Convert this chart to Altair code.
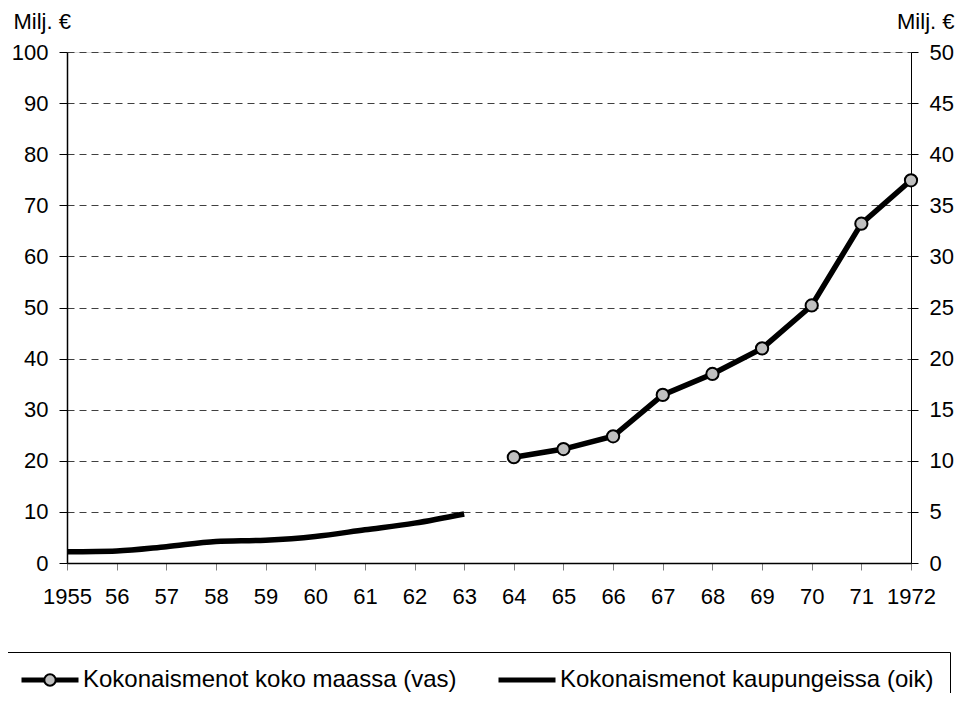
import altair as alt
import pandas as pd

years = ["1955", "56", "57", "58", "59", "60", "61", "62", "63",
         "64", "65", "66", "67", "68", "69", "70", "71", "1972"]

city_years = years[:9]
city_vals = [1.1, 1.18, 1.6, 2.1, 2.23, 2.6, 3.25, 3.9, 4.8]

nat_years = years[9:]
nat_vals = [20.7, 22.3, 24.8, 32.9, 37.0, 42.0, 50.4, 66.4, 74.9]

name_nat = "Kokonaismenot koko maassa (vas)"
name_city = "Kokonaismenot kaupungeissa (oik)"

left_ticks = list(range(0, 101, 10))
right_ticks = list(range(0, 51, 5))

df_nat = pd.DataFrame({"year": nat_years, "value": nat_vals, "series": name_nat})
df_city = pd.DataFrame({"year": city_years, "value": city_vals, "series": name_city})

FONT = "Liberation Sans"
LINE_SYMBOL = "M-1,0H5"

x_enc = alt.X(
    "year:O", sort=years,
    scale=alt.Scale(domain=years, type="point", padding=0),
    axis=alt.Axis(title=None, labelAngle=0, labelFontSize=22, labelFont=FONT,
                  labelColor="black", tickSize=7, tickColor="#808080",
                  domainColor="black", domainWidth=1.5, labelPadding=16,
                  grid=False),
)

stroke_enc = alt.Stroke(
    "series:N",
    scale=alt.Scale(domain=[name_nat, name_city], range=["black", "black"]),
    legend=alt.Legend(orient="none", legendX=-64, legendY=600,
                      direction="horizontal", title=None,
                      symbolType=LINE_SYMBOL, symbolSize=361,
                      symbolStrokeWidth=5,
                      labelFont=FONT, labelFontSize=24, labelColor="black",
                      labelLimit=700, labelOffset=40, columnPadding=31,
                      padding=16, strokeColor="black", zindex=1),
)

fill_enc = alt.Fill(
    "series:N",
    scale=alt.Scale(domain=[name_nat], range=["#c0c0c0"]),
    legend=alt.Legend(orient="none", legendX=-24, legendY=621,
                      title=None, symbolType="circle", symbolSize=130,
                      symbolStrokeColor="black", symbolStrokeWidth=2,
                      labelExpr="''", padding=0, zindex=2),
)

y_left = alt.Y(
    "value:Q",
    scale=alt.Scale(domain=[0, 100], nice=False, zero=True),
    axis=alt.Axis(values=left_ticks, orient="left", title="Milj. €",
                  titleAngle=0, titleX=-54, titleY=-31, titleAlign="left",
                  titleBaseline="middle", titleFontSize=22, titleFont=FONT,
                  titleFontWeight="normal", titleColor="black",
                  labelFontSize=22, labelFont=FONT, labelColor="black",
                  grid=True, gridDash=[7, 5], gridColor="#404040", gridWidth=1,
                  tickSize=8, tickColor="black", domainColor="black",
                  domainWidth=1.5, labelPadding=11),
)

y_right = alt.Y(
    "value:Q",
    scale=alt.Scale(domain=[0, 50], nice=False, zero=True),
    axis=alt.Axis(values=right_ticks, orient="right", title="Milj. €",
                  titleAngle=0, titleX=43, titleY=-31, titleAlign="right",
                  titleBaseline="middle", titleFontSize=22, titleFont=FONT,
                  titleFontWeight="normal", titleColor="black",
                  labelFontSize=22, labelFont=FONT, labelColor="black",
                  grid=False, tickSize=7, tickColor="black",
                  domainColor="black", domainWidth=1, labelPadding=11),
)

line_nat = alt.Chart(df_nat).mark_line(strokeWidth=5.5).encode(
    x=x_enc, y=y_left, stroke=stroke_enc)
pts_nat = alt.Chart(df_nat).mark_circle(
    size=150, opacity=1, stroke="black", strokeWidth=2).encode(
    x=x_enc, y=y_left, fill=fill_enc)
line_city = alt.Chart(df_city).mark_line(
    strokeWidth=5.5, interpolate="monotone").encode(
    x=x_enc, y=y_right, stroke=stroke_enc)

left = alt.layer(line_nat, pts_nat)

chart = alt.layer(left, line_city).resolve_scale(y="independent").properties(
    width=844, height=511,
    padding={"left": 59, "top": 44, "right": 44, "bottom": 130},
    autosize=alt.AutoSizeParams(type="none"),
).configure_view(stroke="#808080", strokeWidth=1).configure(
    background="white")

chart.save("out.html", embed_options={"renderer": "svg", "actions": False})
